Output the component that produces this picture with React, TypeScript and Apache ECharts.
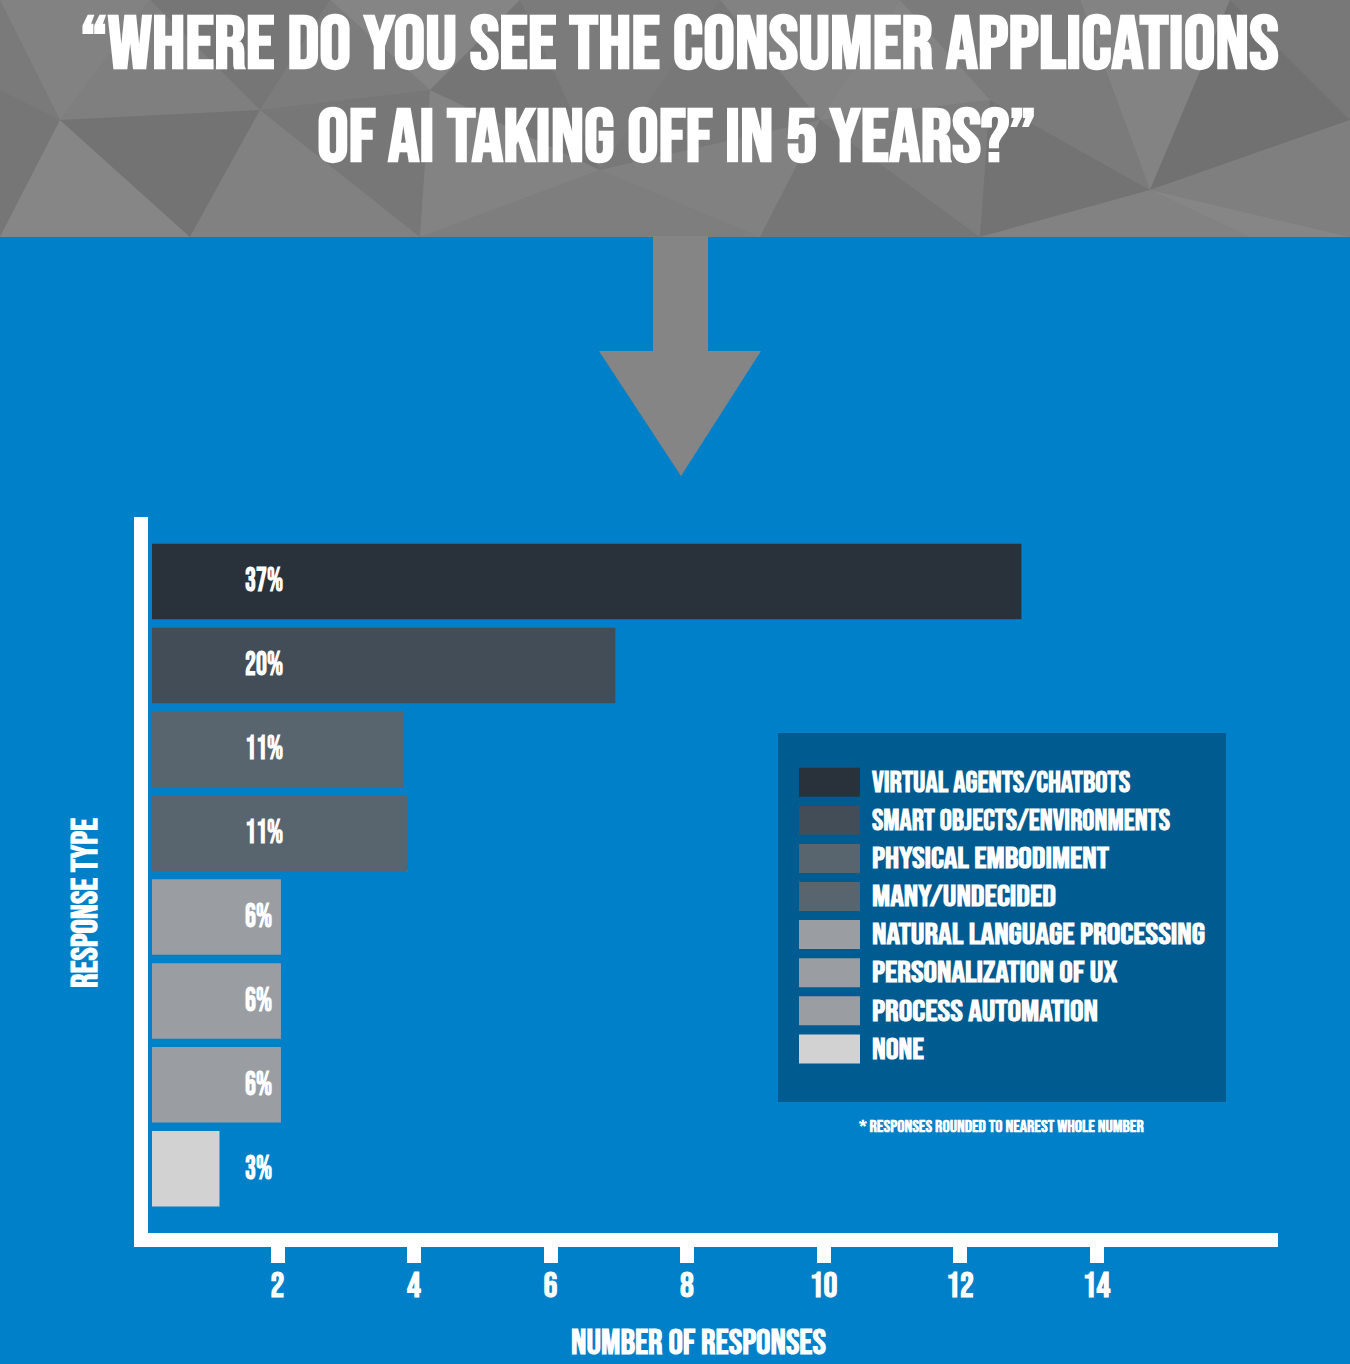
import React, { useEffect, useRef } from 'react';
import * as echarts from 'echarts';

// ---------------- data ----------------
const CATEGORIES = [
  'VIRTUAL AGENTS/CHATBOTS',
  'SMART OBJECTS/ENVIRONMENTS',
  'PHYSICAL EMBODIMENT',
  'MANY/UNDECIDED',
  'NATURAL LANGUAGE PROCESSING',
  'PERSONALIZATION OF UX',
  'PROCESS AUTOMATION',
  'NONE',
];
const RESPONSES = [12.9, 6.95, 3.85, 3.9, 2.05, 2.05, 2.05, 1.15];
const PERCENT_LABELS = ['37%', '20%', '11%', '11%', '6%', '6%', '6%', '3%'];
const X_TICKS = [2, 4, 6, 8, 10, 12, 14];
const COLORS = ['#29323B', '#424D57', '#58646E', '#58646E', '#9A9EA2', '#9A9EA2', '#9A9EA2', '#D2D2D2'];
const TITLE_LINES = ['\u201CWHERE DO YOU SEE THE CONSUMER APPLICATIONS', 'OF AI TAKING OFF IN 5 YEARS?\u201D'];
const X_NAME = 'NUMBER OF RESPONSES';
const Y_NAME = 'RESPONSE TYPE';
const FOOTNOTE = '* RESPONSES ROUNDED TO NEAREST WHOLE NUMBER';

// ---------------- layout / style ----------------
const W = 1350;
const H = 1364;
const HEADER_H = 237;
const BLUE = '#0080C9';
const LEGEND_BG = '#005B91';
const HEADER_GREY = '#7d7d7d';
const ARROW_GREY = '#858585';
const FONT_FAMILY = "'Bebas Neue', 'League Gothic', 'DejaVu Sans Condensed', 'Liberation Sans Narrow', Roboto, sans-serif";

const AXIS_LEFT = 141;
const AXIS_RIGHT = 1271;
const PX_PER_UNIT = 68.25;
const X_MAX = (AXIS_RIGHT - AXIS_LEFT) / PX_PER_UNIT;
// rendered widths of the legend texts in the original typeface (layout only)
const LEGEND_TEXT_WIDTHS = [258, 298, 237, 184, 333, 245, 226, 52];

const HEADER_SHAPES: { pts: number[][]; c: string }[] = [
  { pts: [[0, 0], [150, 0], [60, 120]], c: '#828282' },
  { pts: [[0, 0], [60, 120], [0, 90]], c: '#7a7a7a' },
  { pts: [[0, 90], [60, 120], [0, 237]], c: '#767676' },
  { pts: [[60, 120], [190, 237], [0, 237]], c: '#868686' },
  { pts: [[150, 0], [330, 0], [260, 110]], c: '#767676' },
  { pts: [[60, 120], [150, 0], [260, 110]], c: '#7f7f7f' },
  { pts: [[260, 110], [190, 237], [60, 120]], c: '#737373' },
  { pts: [[260, 110], [420, 237], [190, 237]], c: '#818181' },
  { pts: [[330, 0], [520, 0], [430, 90]], c: '#858585' },
  { pts: [[260, 110], [330, 0], [430, 90]], c: '#7c7c7c' },
  { pts: [[430, 90], [420, 237], [260, 110]], c: '#777777' },
  { pts: [[430, 90], [600, 170], [420, 237]], c: '#838383' },
  { pts: [[520, 0], [720, 0], [600, 170]], c: '#7b7b7b' },
  { pts: [[430, 90], [520, 0], [600, 170]], c: '#757575' },
  { pts: [[600, 170], [760, 237], [420, 237]], c: '#7e7e7e' },
  { pts: [[720, 0], [900, 0], [820, 120]], c: '#828282' },
  { pts: [[600, 170], [720, 0], [820, 120]], c: '#787878' },
  { pts: [[820, 120], [760, 237], [600, 170]], c: '#818181' },
  { pts: [[820, 120], [980, 237], [760, 237]], c: '#767676' },
  { pts: [[900, 0], [1080, 0], [990, 100]], c: '#7b7b7b' },
  { pts: [[820, 120], [900, 0], [990, 100]], c: '#848484' },
  { pts: [[990, 100], [980, 237], [820, 120]], c: '#7d7d7d' },
  { pts: [[990, 100], [1150, 190], [980, 237]], c: '#737373' },
  { pts: [[1080, 0], [1230, 0], [1150, 190]], c: '#838383' },
  { pts: [[990, 100], [1080, 0], [1150, 190]], c: '#7b7b7b' },
  { pts: [[1150, 190], [1250, 237], [980, 237]], c: '#828282' },
  { pts: [[1230, 0], [1350, 0], [1350, 120]], c: '#787878' },
  { pts: [[1150, 190], [1230, 0], [1350, 120]], c: '#717171' },
  { pts: [[1350, 120], [1350, 237], [1150, 190]], c: '#7f7f7f' },
  { pts: [[1150, 190], [1350, 237], [1250, 237]], c: '#868686' },
];

// ---------------- text fitting ----------------
let measureCtx: CanvasRenderingContext2D | null = null;
function measure(text: string, size: number) {
  if (!measureCtx) measureCtx = document.createElement('canvas').getContext('2d');
  measureCtx!.font = `bold ${size}px ${FONT_FAMILY}`;
  return measureCtx!.measureText(text);
}
function capRatio() {
  const m = measure('H', 100);
  return (m.actualBoundingBoxAscent || 72) / 100;
}
function fit(text: string, cap: number, width: number) {
  const fontSize = cap / capRatio();
  const w = measure(text, fontSize).width;
  return { fontSize, scaleX: width / w };
}

function textEl(text: string, x: number, y: number, cap: number, width: number, align: string, extra: any = {}) {
  const f = fit(text, cap, width);
  return {
    type: 'text',
    x,
    y,
    scaleX: f.scaleX,
    z: 20,
    ...extra,
    style: {
      text,
      fill: '#ffffff',
      fontSize: f.fontSize,
      fontFamily: FONT_FAMILY,
      fontWeight: 'bold',
      textAlign: align,
      textVerticalAlign: 'middle',
    },
  };
}

function buildOption() {
  const graphics: any[] = [];
  graphics.push({ type: 'rect', z: -10, shape: { x: 0, y: 0, width: W, height: HEADER_H }, style: { fill: HEADER_GREY } });
  HEADER_SHAPES.forEach((s) =>
    graphics.push({ type: 'polygon', z: -9, shape: { points: s.pts }, style: { fill: s.c } })
  );
  graphics.push({
    type: 'polygon',
    z: -8,
    shape: { points: [[653, HEADER_H - 1], [708, HEADER_H - 1], [708, 351], [761, 351], [681, 476], [599, 351], [653, 351]] },
    style: { fill: ARROW_GREY },
  });
  // title
  graphics.push(textEl(TITLE_LINES[0], 679.5, 45.5, 54, 1199, 'center'));
  graphics.push(textEl(TITLE_LINES[1], 676.5, 138.5, 54, 719, 'center'));

  // legend
  graphics.push({ type: 'rect', z: 5, shape: { x: 778, y: 733, width: 448, height: 369 }, style: { fill: LEGEND_BG } });
  CATEGORIES.forEach((c, i) => {
    const cy = 782.2 + i * 38.1;
    graphics.push({ type: 'rect', z: 6, shape: { x: 799, y: cy - 14.5, width: 61, height: 29 }, style: { fill: COLORS[i] } });
    graphics.push(textEl(c, 872, cy + 1, 21, LEGEND_TEXT_WIDTHS[i], 'left'));
  });
  graphics.push(textEl(FOOTNOTE, 859, 1127.5, 11.6, 285, 'left'));

  // axis names
  graphics.push(textEl(X_NAME, 698.5, 1343.5, 25, 255, 'center'));
  graphics.push(textEl(Y_NAME, 86, 903, 26, 170, 'center', { rotation: Math.PI / 2 }));

  const pct = fit('37%', 24, 38);
  const tickFont = 25 / capRatio();

  return {
    animation: false,
    backgroundColor: BLUE,
    graphic: { elements: graphics },
    grid: [
      { left: AXIS_LEFT, top: 539.6, width: AXIS_RIGHT - AXIS_LEFT, height: 671.1, containLabel: false, outerBoundsMode: 'none' },
      { left: AXIS_LEFT, top: 524, width: AXIS_RIGHT - AXIS_LEFT, height: 716, containLabel: false, outerBoundsMode: 'none' },
    ],
    xAxis: [
      { type: 'value', gridIndex: 0, min: 0, max: X_MAX, show: false },
      {
        type: 'value',
        gridIndex: 1,
        min: 0,
        max: X_MAX,
        interval: 2,
        z: 10,
        splitLine: { show: false },
        axisLine: { show: true, lineStyle: { color: '#ffffff', width: 14, cap: 'square' } },
        axisTick: { show: true, length: 23, customValues: X_TICKS, lineStyle: { color: '#ffffff', width: 14 } },
        axisLabel: {
          show: true,
          customValues: X_TICKS,
          color: '#ffffff',
          fontFamily: FONT_FAMILY,
          fontWeight: 'bold',
          fontSize: tickFont,
          margin: 46,
          verticalAlign: 'middle',
        },
      },
    ],
    yAxis: [
      { type: 'category', gridIndex: 0, data: CATEGORIES, inverse: true, show: false },
      {
        type: 'value',
        gridIndex: 1,
        min: 0,
        max: 1,
        z: 10,
        splitLine: { show: false },
        axisTick: { show: false },
        axisLabel: { show: false },
        axisLine: { show: true, lineStyle: { color: '#ffffff', width: 14, cap: 'square' } },
      },
    ],
    series: [
      {
        type: 'custom',
        xAxisIndex: 0,
        yAxisIndex: 0,
        data: CATEGORIES.map((c, i) => [i, RESPONSES[i]]),
        encode: { x: 1, y: 0 },
        renderItem: (params: any, api: any) => {
          const idx = api.value(0);
          const v = api.value(1);
          const start = api.coord([0, idx]);
          const end = api.coord([v, idx]);
          const h = api.size([0, 1])[1] * 0.9;
          const x0 = start[0] + 11;
          return {
            type: 'group',
            children: [
              {
                type: 'rect',
                shape: { x: x0, y: start[1] - h / 2, width: end[0] - x0, height: h },
                style: { fill: COLORS[params.dataIndex] },
              },
              {
                type: 'text',
                x: start[0] + 104,
                y: start[1],
                scaleX: pct.scaleX,
                style: {
                  text: PERCENT_LABELS[params.dataIndex],
                  fill: '#ffffff',
                  fontSize: pct.fontSize,
                  fontFamily: FONT_FAMILY,
                  fontWeight: 'bold',
                  textAlign: 'left',
                  textVerticalAlign: 'middle',
                },
              },
            ],
          };
        },
      },
    ],
  };
}

export default function App() {
  const ref = useRef<HTMLDivElement>(null);
  useEffect(() => {
    document.body.style.margin = '0';
    const chart = echarts.init(ref.current!, undefined, { renderer: 'svg' });
    chart.setOption(buildOption() as any);
    return () => chart.dispose();
  }, []);
  return <div ref={ref} style={{ position: 'absolute', left: 0, top: 0, width: W, height: H }} />;
}
